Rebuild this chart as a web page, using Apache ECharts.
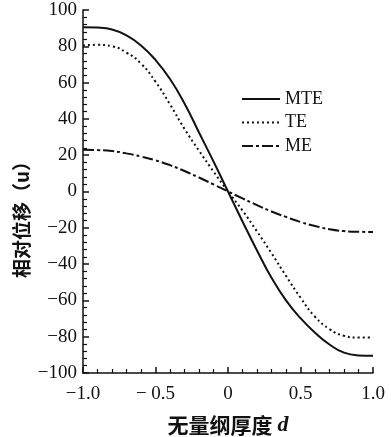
<!DOCTYPE html>
<html>
<head>
<meta charset="utf-8">
<script src="https://cdn.jsdelivr.net/npm/echarts@6/dist/echarts.min.js"></script>
<style>html,body{margin:0;padding:0;background:#fff;}#c{width:391px;height:437px;}</style>
</head>
<body>
<div id="c"></div>
<script>
// Data
var dValues = [-1.0,-0.9,-0.8,-0.7,-0.6,-0.5,-0.4,-0.3,-0.2,-0.1,0,0.1,0.2,0.3,0.4,0.5,0.6,0.7,0.8,0.9,1.0];
var mteValues = [90.5,90.3,89.3,86,80.5,72.5,62,48.5,32.5,16.5,0,-16.5,-32.5,-47.5,-60,-69.8,-77.8,-84.3,-88.8,-90.3,-90.5];
var teValues = [80.5,80.8,80,76.5,70.5,60.5,48,34.5,22.5,11,0,-10.5,-22,-34,-46.5,-58.5,-69,-75.8,-79.5,-80.5,-80.5];
var meValues = [23,22.8,22.3,21,19.3,17.2,14.5,11.3,7.7,3.9,0,-3.8,-7.5,-11,-14,-16.8,-19,-20.8,-21.8,-22.2,-22.3];
var seriesNames = ['MTE','TE','ME'];
var xTickLabels = {'-1':'\u22121.0','-0.5':'\u2212 0.5','0':'0','0.5':'0.5','1':'1.0'};

function pairs(ys){ return dValues.map(function(d,i){ return [d, ys[i]]; }); }
var serif = 'Liberation Serif';
var chart = echarts.init(document.getElementById('c'), null, {renderer:'canvas'});
chart.setOption({
  animation:false,
  backgroundColor:'#fff',
  grid:{left:83, right:18, top:10, bottom:64, containLabel:false, outerBoundsMode:'none'},
  legend:{
    orient:'vertical', left:236, top:85, itemWidth:38, itemHeight:12, itemGap:5.5,
    textStyle:{fontFamily:serif, fontSize:18, color:'#111'},
    itemStyle:{opacity:0},
    data:seriesNames
  },
  xAxis:{
    type:'value', min:-1, max:1, interval:0.5,
    axisLine:{onZero:false, lineStyle:{color:'#111', width:1.5}},
    axisTick:{inside:true, length:6, lineStyle:{color:'#111', width:1.5}},
    minorTick:{show:true, splitNumber:5, length:4, lineStyle:{color:'#111', width:1.2}},
    splitLine:{show:false},
    axisLabel:{fontFamily:serif, fontSize:19, color:'#111', margin:12,
      formatter:function(v){ var k=String(Math.round(v*10)/10); return xTickLabels[k]!==undefined?xTickLabels[k]:k; }},
    name:'无量纲厚度 {i|d}', nameLocation:'middle', nameGap:41,
    nameTextStyle:{fontFamily:'Noto Sans CJK SC', fontWeight:'bold', fontSize:21, color:'#111', padding:[0,0,0,0],
      rich:{i:{fontFamily:serif, fontStyle:'italic', fontWeight:'bold', fontSize:22, color:'#111'}}}
  },
  yAxis:{
    type:'value', min:-100, max:100, interval:20,
    axisLine:{show:true, onZero:false, lineStyle:{color:'#111', width:1.5}},
    axisTick:{show:true, inside:true, length:6, lineStyle:{color:'#111', width:1.5}},
    minorTick:{show:true, splitNumber:5, length:4, lineStyle:{color:'#111', width:1.2}},
    splitLine:{show:false},
    axisLabel:{fontFamily:serif, fontSize:19, color:'#111', margin:6,
      formatter:function(v){ return v<0 ? '\u2212'+Math.abs(v) : String(v); }}
  },
  graphic:[{
    type:'text', x:22, y:215, rotation:Math.PI/2,
    style:{text:'相对位移（u）', fontFamily:'Noto Sans CJK SC', fontWeight:'bold', fontSize:19, fill:'#111', align:'center', verticalAlign:'middle'}
  }],
  series:[
    {name:'MTE', type:'line', data:pairs(mteValues), smooth:0.5, showSymbol:false, symbol:'none',
      lineStyle:{color:'#111', width:2, type:'solid'}, itemStyle:{color:'#111'}},
    {name:'TE', type:'line', data:pairs(teValues), smooth:0.5, showSymbol:false, symbol:'none',
      lineStyle:{color:'#111', width:2, type:[2,3]}, itemStyle:{color:'#111'}},
    {name:'ME', type:'line', data:pairs(meValues), smooth:0.5, showSymbol:false, symbol:'none',
      lineStyle:{color:'#111', width:2, type:[11,3,3,3]}, itemStyle:{color:'#111'}}
  ]
});
</script>
</body>
</html>
